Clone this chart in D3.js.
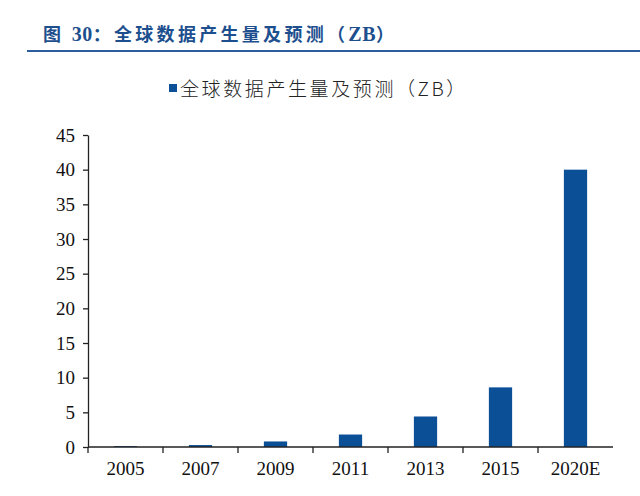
<!DOCTYPE html>
<html>
<head>
<meta charset="utf-8">
<script src="https://cdn.jsdelivr.net/npm/d3@7/dist/d3.min.js"></script>
<style>
  body { margin: 0; background: #fff; }
  svg { display: block; }
</style>
</head>
<body>
<div class="canvas"></div>
<script>
// data
const years = ["2005", "2007", "2009", "2011", "2013", "2015", "2020E"];
const volumes = [0.13, 0.28, 0.8, 1.8, 4.4, 8.6, 40];
const yTicks = [0, 5, 10, 15, 20, 25, 30, 35, 40, 45];
const seriesName = "全球数据产生量及预测（ZB）";

// sizes
const w = 640;
const h = 496;
const margin = { top: 135, right: 27, bottom: 49, left: 88 };
const graphWidth = w - margin.left - margin.right;
const graphHeight = h - margin.top - margin.bottom;
const barColor = "#0b4f96";
const titleColor = "#1d4f8e";

const svg = d3.select(".canvas").append("svg").attr("width", w).attr("height", h);
svg.append("rect").attr("width", w).attr("height", h).attr("fill", "#fff");

// title
const title = svg.append("text")
  .attr("x", 43)
  .attr("y", 41)
  .attr("fill", titleColor)
  .attr("font-size", 18)
  .attr("font-weight", "bold")
  .attr("letter-spacing", 3.3)
  .attr("font-family", "'Noto Sans CJK SC', sans-serif");
title.append("tspan").text("图 ");
title.append("tspan").attr("font-family", "'Liberation Serif', serif").attr("font-size", 20).attr("letter-spacing", 0.5).text("30");
title.append("tspan").text("：全球数据产生量及预测（");
title.append("tspan").attr("font-family", "'Liberation Serif', serif").attr("font-size", 20).attr("letter-spacing", 0.5).text("ZB");
title.append("tspan").text("）");

svg.append("line")
  .attr("x1", 27).attr("x2", 640)
  .attr("y1", 51).attr("y2", 51)
  .attr("stroke", "#2c5d9c")
  .attr("stroke-width", 2.2);

// legend
const legend = svg.append("g").attr("transform", "translate(169, 84)");
legend.append("rect").attr("width", 8).attr("height", 8).attr("fill", barColor);
legend.append("text")
  .attr("x", 11)
  .attr("y", 12)
  .attr("font-size", 19)
  .attr("letter-spacing", 2.6)
  .attr("fill", "#222")
  .attr("font-family", "'Noto Sans CJK SC', sans-serif")
  .attr("font-weight", 300)
  .text(seriesName);

// graph area
const graph = svg.append("g").attr("transform", `translate(${margin.left}, ${margin.top})`);

const xScale = d3.scaleBand().domain(years).range([0, graphWidth]).paddingInner(0.69).paddingOuter(0.345);
const xBand = d3.scaleBand().domain(years).range([0, graphWidth]);
const yScale = d3.scaleLinear().domain([0, 45]).range([graphHeight, 0]);

// bars
graph.selectAll("rect.bar")
  .data(years)
  .join("rect")
  .attr("class", "bar")
  .attr("x", (d) => xScale(d))
  .attr("width", xScale.bandwidth())
  .attr("y", (d, i) => yScale(volumes[i]))
  .attr("height", (d, i) => graphHeight - yScale(volumes[i]))
  .attr("fill", barColor);

// y axis
const yAxis = d3.axisLeft(yScale).tickValues(yTicks).tickSize(5).tickPadding(8).tickSizeOuter(0);
const yg = graph.append("g").call(yAxis);
yg.select(".domain").attr("stroke", "#222").attr("stroke-width", 1.3);
yg.selectAll(".tick line").attr("stroke", "#222").attr("stroke-width", 1.3);
yg.selectAll("text")
  .attr("font-family", "'Liberation Serif', serif")
  .attr("font-size", 19)
  .attr("fill", "#111");

// x axis
const xg = graph.append("g").attr("transform", `translate(0, ${graphHeight})`);
xg.append("line")
  .attr("x1", 0).attr("x2", graphWidth)
  .attr("stroke", "#222").attr("stroke-width", 1.3);
xg.selectAll("line.tk")
  .data(years)
  .join("line")
  .attr("class", "tk")
  .attr("x1", (d) => xBand(d)).attr("x2", (d) => xBand(d))
  .attr("y1", 0).attr("y2", 6)
  .attr("stroke", "#222").attr("stroke-width", 1.3);
xg.selectAll("text")
  .data(years)
  .join("text")
  .attr("x", (d) => xBand(d) + xBand.bandwidth() / 2)
  .attr("y", 28)
  .attr("text-anchor", "middle")
  .attr("font-family", "'Liberation Serif', serif")
  .attr("font-size", 19)
  .attr("fill", "#111")
  .text((d) => d);
</script>
</body>
</html>
